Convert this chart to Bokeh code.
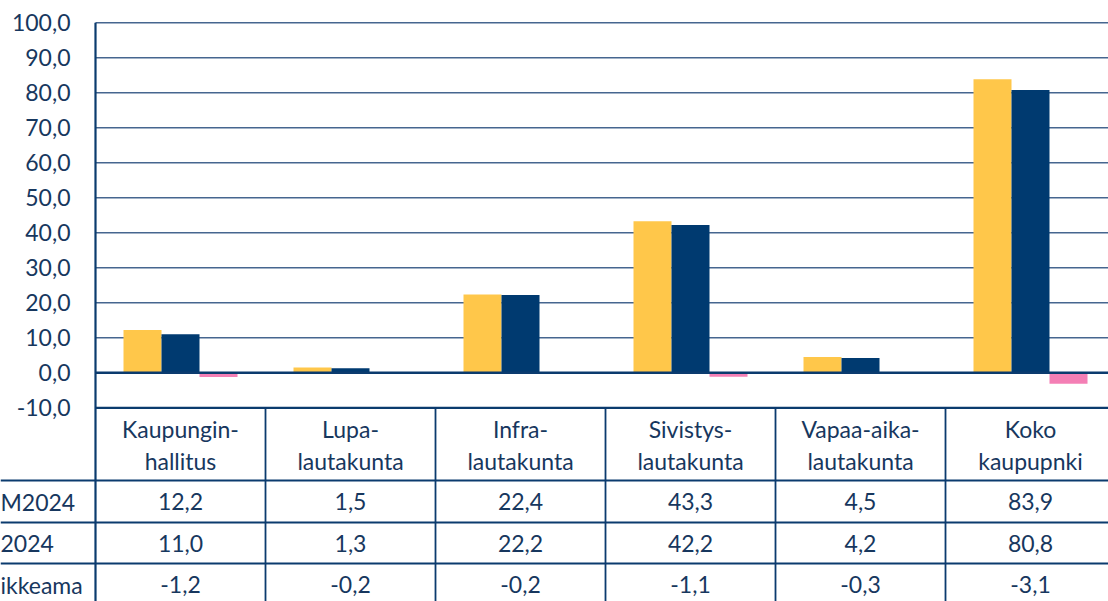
from bokeh.plotting import figure
from bokeh.models import Range1d, ColumnDataSource
from bokeh.embed import file_html
from bokeh.resources import INLINE
from bokeh.core.properties import value

# ---------------- data ----------------
categories = ["Kaupungin-\nhallitus", "Lupa-\nlautakunta", "Infra-\nlautakunta",
              "Sivistys-\nlautakunta", "Vapaa-aika-\nlautakunta", "Koko\nkaupupnki"]
row_labels = ["M2024", "2024", "ikkeama"]
tm2024 = [12.2, 1.5, 22.4, 43.3, 4.5, 83.9]
tp2024 = [11.0, 1.3, 22.2, 42.2, 4.2, 80.8]
poikkeama = [-1.2, -0.2, -0.2, -1.1, -0.3, -3.1]
y_ticks = [-10, 0, 10, 20, 30, 40, 50, 60, 70, 80, 90, 100]

# ---------------- style ----------------
series_colors = ["#FFC74A", "#003A70", "#F47FB5"]
TEXT = "#17375E"
GRID = "#46668F"
LINE = "#0B3B6E"
FONT = value("Lato")
FS = "23px"

W, H = 1108, 601
PLOT_LEFT = 95.0
CAT_W = 170.0
ZERO_Y = 372.3
PX_PER_UNIT = 3.5


def dx(px):
    return (px - PLOT_LEFT) / CAT_W


def dy(px):
    return (ZERO_Y - px) / PX_PER_UNIT


def fmt(v):
    return f"{v:.1f}".replace(".", ",")


p = figure(width=W, height=H,
           x_range=Range1d(dx(0), dx(W)), y_range=Range1d(dy(H), dy(0)),
           x_axis_type=None, y_axis_type=None,
           output_backend="svg", toolbar_location=None,
           min_border=0)
p.grid.visible = False
p.outline_line_color = None
p.background_fill_color = "white"
p.border_fill_color = "white"

n = len(categories)
x_end = dx(W)

# gridlines
grid_vals = [t for t in y_ticks if t > 0]
p.segment(x0=[0] * len(grid_vals), x1=[x_end] * len(grid_vals),
          y0=grid_vals, y1=grid_vals, line_color=GRID, line_width=1.6)

# bars
bar_w = 38.0 / CAT_W
for k, (vals, col) in enumerate(zip([tm2024, tp2024, poikkeama], series_colors)):
    xs = [i + 0.5 + (k - 1) * bar_w for i in range(n)]
    src = ColumnDataSource(dict(x=xs, top=vals))
    p.vbar(x="x", top="top", bottom=0, width=bar_w, source=src,
           fill_color=col, line_color=None)

# zero line and axis line
p.segment(x0=[0], x1=[x_end], y0=[0], y1=[0], line_color=LINE, line_width=2.6)
p.segment(x0=[0], x1=[0], y0=[100], y1=[dy(H)], line_color=LINE, line_width=2.2)

# y tick labels
p.text(x=[dx(70)] * len(y_ticks), y=y_ticks, text=[fmt(t) for t in y_ticks],
       text_align="right", text_baseline="middle", text_color=TEXT,
       text_font=FONT, text_font_size=FS)

# table lines
p.segment(x0=[0], x1=[x_end], y0=[-10], y1=[-10], line_color=LINE, line_width=2.2)
row_line_px = [480, 522, 563]
p.segment(x0=[dx(0)] * 3, x1=[x_end] * 3, y0=[dy(v) for v in row_line_px],
          y1=[dy(v) for v in row_line_px], line_color=LINE, line_width=1.8)
p.segment(x0=list(range(1, n)), x1=list(range(1, n)), y0=[-10] * (n - 1),
          y1=[dy(H)] * (n - 1), line_color=LINE, line_width=1.8)

# header texts
line1 = [c.split("\n")[0] for c in categories]
line2 = [c.split("\n")[1] for c in categories]
cx = [i + 0.5 for i in range(n)]
for txt, ypx in [(line1, 428), (line2, 460)]:
    p.text(x=cx, y=[dy(ypx)] * n, text=txt, text_align="center",
           text_baseline="middle", text_color=TEXT, text_font=FONT, text_font_size=FS)

# values rows
for vals, ypx in [(tm2024, 501), (tp2024, 543), (poikkeama, 584)]:
    p.text(x=cx, y=[dy(ypx)] * n, text=[fmt(v) for v in vals], text_align="center",
           text_baseline="middle", text_color=TEXT, text_font=FONT, text_font_size=FS)

# row labels
p.text(x=[dx(0)] * 3, y=[dy(501), dy(543), dy(584)], text=row_labels,
       text_align="left", text_baseline="middle", text_color=TEXT,
       text_font=FONT, text_font_size=FS)

open("out.html", "w").write(file_html(p, INLINE))
